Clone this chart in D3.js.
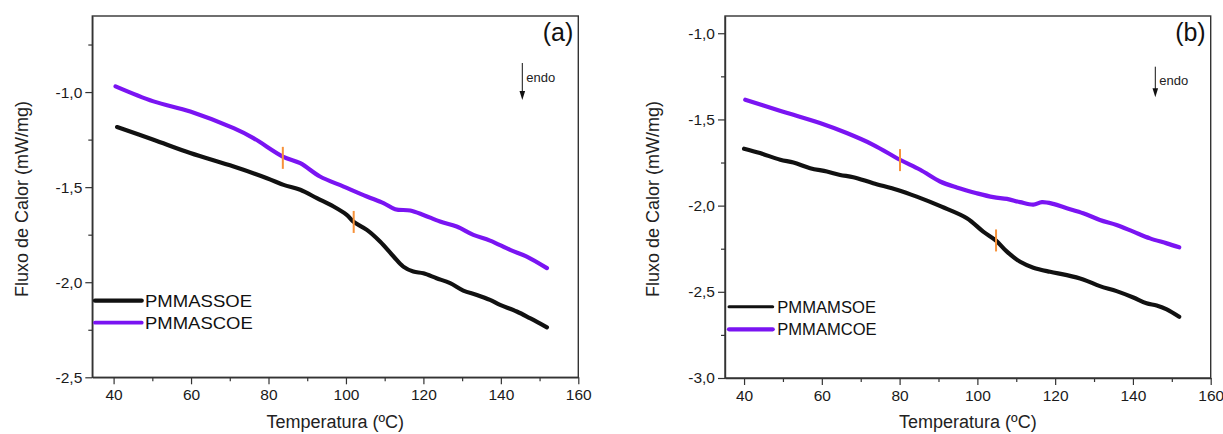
<!DOCTYPE html>
<html>
<head>
<meta charset="utf-8">
<script src="https://cdn.jsdelivr.net/npm/d3@7"></script>
<style>
  html, body { margin: 0; padding: 0; background: #fff; }
  svg { display: block; font-family: "Liberation Sans", Arial, sans-serif; }
</style>
</head>
<body>
<div id="chart"></div>
<script>
// DSC curves, two panels.

// panel (a): [temperature ºC, heat flow mW/mg]
const pmmassoe = [[40.9,-1.184],[50.3,-1.251],[59.8,-1.321],[71,-1.392],[79.6,-1.453],[83.9,-1.488],[88.2,-1.514],
  [92.5,-1.558],[96.8,-1.602],[100.2,-1.646],[102,-1.683],[105.4,-1.725],[108.8,-1.786],[112.3,-1.865],[114.8,-1.918],
  [117.4,-1.944],[120,-1.953],[123.4,-1.979],[126.9,-2.005],[130.3,-2.044],[133.8,-2.067],[137.2,-2.093],[139.8,-2.119],
  [144.1,-2.154],[147.5,-2.189],[151.9,-2.237]];
const pmmascoe = [[40.5,-0.970],[50.3,-1.049],[59.8,-1.102],[71,-1.190],[76.1,-1.242],[83.7,-1.339],[88.2,-1.374],
  [93.3,-1.444],[99.4,-1.497],[105.4,-1.549],[109.7,-1.584],[112.7,-1.616],[116.6,-1.623],[120,-1.646],[124.3,-1.681],
  [128.6,-1.707],[132.9,-1.751],[137.2,-1.781],[142.4,-1.830],[146.7,-1.865],[151.9,-1.926]];

// panel (b)
const pmmamsoe = [[40,-1.670],[44.1,-1.695],[49.3,-1.734],[52.7,-1.750],[57,-1.783],[61.3,-1.802],[64.7,-1.822],
  [68.1,-1.835],[73.2,-1.870],[79.5,-1.909],[84.4,-1.948],[90.8,-2.006],[97.3,-2.073],[101.5,-2.151],[104.8,-2.203],
  [107.6,-2.267],[111,-2.326],[114.4,-2.360],[118.7,-2.384],[123,-2.403],[127.2,-2.428],[131.5,-2.467],[135.8,-2.496],
  [140.1,-2.533],[143.5,-2.567],[146.1,-2.579],[148.7,-2.602],[151.9,-2.645]];
const pmmamcoe = [[40.3,-1.386],[48.4,-1.444],[52.7,-1.473],[59.5,-1.521],[66.4,-1.579],[73.2,-1.647],[80.1,-1.734],
  [85.3,-1.792],[90.4,-1.860],[94.7,-1.895],[99.8,-1.928],[104.1,-1.951],[107.6,-1.961],[111,-1.980],[114.4,-1.994],
  [116.6,-1.980],[119.5,-1.990],[123,-2.015],[127.2,-2.044],[131.5,-2.083],[135.8,-2.112],[140.1,-2.151],
  [144.4,-2.190],[148.7,-2.219],[151.9,-2.242]];

// orange Tg markers
const tgMarksA = [[83.7,-1.346],[102,-1.683]];
const tgMarksB = [[80.1,-1.736],[104.8,-2.202]];

const xTicks = [40, 60, 80, 100, 120, 140, 160];
const xMinor = [50, 70, 90, 110, 130, 150];
const yTicksA = [-2.5, -2.0, -1.5, -1.0];
const yMinorA = [-2.25, -1.75, -1.25, -0.75];
const yTicksB = [-3.0, -2.5, -2.0, -1.5, -1.0];
const yMinorB = [-2.75, -2.25, -1.75, -1.25];

const BLACK = '#111', PURPLE = '#7a14f2', ORANGE = '#f7923a', AXIS = '#333';

const W = 1223, H = 434;
const svg = d3.select('#chart').append('svg').attr('width', W).attr('height', H);

const panels = [
  { tag: '(a)', xDom: [34.5, 160], xRange: [92.3, 578.3], yDom: [-2.5, -0.6], yRange: [377.3, 16],
    yTicks: yTicksA, yMinor: yMinorA, ylabX: 27.5,
    series: [ {name:'PMMASSOE', data: pmmassoe, color: BLACK}, {name:'PMMASCOE', data: pmmascoe, color: PURPLE} ],
    marks: tgMarksA, markHalf: 11,
    legend: { x1: 95, x2: 141.7, ys: [300.7, 322.7], lw: [4.3, 3.8], tx: 145, fs: 17, tl: [107, 107.7] },
    endoX: 522.3, endoY: [63, 100] },
  { tag: '(b)', xDom: [35.1, 160], xRange: [725, 1210.7], yDom: [-3.0, -0.9], yRange: [378, 16],
    yTicks: yTicksB, yMinor: yMinorB, ylabX: 659,
    series: [ {name:'PMMAMSOE', data: pmmamsoe, color: BLACK}, {name:'PMMAMCOE', data: pmmamcoe, color: PURPLE} ],
    marks: tgMarksB, markHalf: 11,
    legend: { x1: 729, x2: 772.7, ys: [306.7, 329.3], lw: [3, 4.3], tx: 777.3, fs: 16, tl: [98.7, 99.3] },
    endoX: 1155.3, endoY: [66.7, 97.3] }
];

const fmt = d => d.toFixed(1).replace('.', ',');

panels.forEach(p => {
  const x = d3.scaleLinear().domain(p.xDom).range(p.xRange);
  const y = d3.scaleLinear().domain(p.yDom).range(p.yRange);
  const g = svg.append('g');

  // frame (top + right)
  g.append('rect')
    .attr('x', p.xRange[0]).attr('y', p.yRange[1])
    .attr('width', p.xRange[1] - p.xRange[0]).attr('height', p.yRange[0] - p.yRange[1])
    .attr('fill', 'none').attr('stroke', AXIS).attr('stroke-width', 1.4);

  // minor ticks
  g.append('g').attr('transform', `translate(0,${p.yRange[0]})`)
    .call(d3.axisBottom(x).tickValues(xMinor).tickSize(4).tickFormat(''))
    .call(s => s.select('.domain').remove());
  g.append('g').attr('transform', `translate(${p.xRange[0]},0)`)
    .call(d3.axisLeft(y).tickValues(p.yMinor).tickSize(4).tickFormat(''))
    .call(s => s.select('.domain').remove());

  // major axes
  const xa = g.append('g').attr('transform', `translate(0,${p.yRange[0]})`)
    .call(d3.axisBottom(x).tickValues(xTicks).tickSize(7).tickSizeOuter(0).tickPadding(5).tickFormat(d3.format('d')));
  const ya = g.append('g').attr('transform', `translate(${p.xRange[0]},0)`)
    .call(d3.axisLeft(y).tickValues(p.yTicks).tickSize(7).tickSizeOuter(0).tickPadding(3).tickFormat(fmt));
  [xa, ya].forEach(a => {
    a.selectAll('.domain').attr('stroke', AXIS).attr('stroke-width', 1.4);
    a.selectAll('text').attr('font-size', 15.5).attr('fill', '#1a1a1a')
      .attr('font-family', '"Liberation Sans", Arial, sans-serif');
  });
  g.selectAll('.tick line').attr('stroke', AXIS).attr('stroke-width', 1.2);

  // curves
  const line = d3.line().x(d => x(d[0])).y(d => y(d[1])).curve(d3.curveCatmullRom.alpha(0.5));
  p.series.forEach(s => {
    g.append('path').datum(s.data).attr('d', line)
      .attr('fill', 'none').attr('stroke', s.color).attr('stroke-width', 4.2)
      .attr('stroke-linecap', 'round').attr('stroke-linejoin', 'round');
  });

  // Tg markers
  g.selectAll('line.tg').data(p.marks).join('line').attr('class', 'tg')
    .attr('x1', d => x(d[0])).attr('x2', d => x(d[0]))
    .attr('y1', d => y(d[1]) - p.markHalf).attr('y2', d => y(d[1]) + p.markHalf)
    .attr('stroke', ORANGE).attr('stroke-width', 2);

  // legend
  const L = p.legend;
  p.series.forEach((s, i) => {
    g.append('line').attr('x1', L.x1).attr('x2', L.x2).attr('y1', L.ys[i]).attr('y2', L.ys[i])
      .attr('stroke', s.color).attr('stroke-width', L.lw[i]).attr('stroke-linecap', 'round');
    g.append('text').attr('x', L.tx).attr('y', L.ys[i] + 5.8)
      .attr('font-size', L.fs).attr('fill', '#111')
      .attr('textLength', L.tl[i]).attr('lengthAdjust', 'spacingAndGlyphs')
      .text(s.name);
  });

  // panel tag
  g.append('text').attr('x', p.xRange[1] - 5).attr('y', 41)
    .attr('text-anchor', 'end').attr('font-size', 25).attr('fill', '#111').text(p.tag);

  // endo arrow: stem + filled head
  const ex = p.endoX, ey0 = p.endoY[0], ey1 = p.endoY[1];
  g.append('line').attr('x1', ex).attr('x2', ex).attr('y1', ey0).attr('y2', ey1 - 6)
    .attr('stroke', '#111').attr('stroke-width', 1);
  g.append('path').attr('d', `M${ex - 2.8},${ey1 - 9} L${ex + 2.8},${ey1 - 9} L${ex},${ey1} Z`)
    .attr('fill', '#111');
  g.append('text').attr('x', ex + 4).attr('y', ey0 + 18.5)
    .attr('font-size', 13).attr('fill', '#222').text('endo');

  // axis titles
  const cx = (p.xRange[0] + p.xRange[1]) / 2;
  g.append('text').attr('x', cx).attr('y', 428).attr('text-anchor', 'middle')
    .attr('font-size', 18).attr('fill', '#222').text('Temperatura (ºC)');
  g.append('text').attr('transform', `translate(${p.ylabX},199) rotate(-90)`)
    .attr('text-anchor', 'middle').attr('font-size', 18).attr('fill', '#222')
    .text('Fluxo de Calor (mW/mg)');
});
</script>
</body>
</html>
